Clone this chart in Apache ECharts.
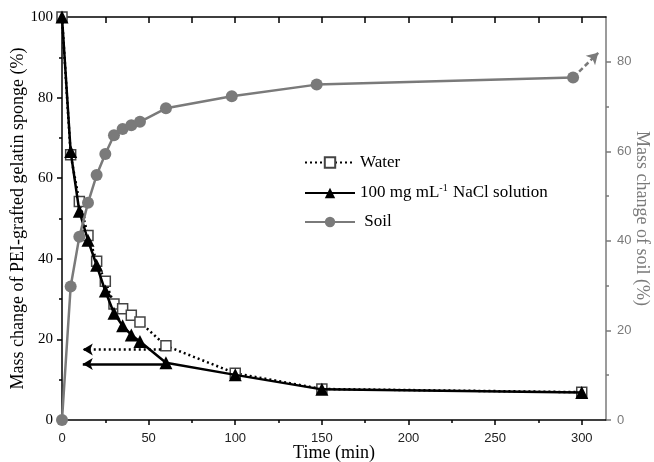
<!DOCTYPE html>
<html>
<head>
<meta charset="utf-8">
<script src="https://cdn.jsdelivr.net/npm/echarts@6/dist/echarts.min.js"></script>
<style>html,body{margin:0;padding:0;background:#fff;}#c{width:654px;height:462px;}</style>
</head>
<body>
<div id="c"></div>
<script>
// ---- data ----
const waterTime = [0, 5, 10, 15, 20, 25, 30, 35, 40, 45, 60, 100, 150, 300];
const waterMass = [100, 65.8, 54.2, 45.8, 39.4, 34.4, 28.8, 27.6, 26.0, 24.3, 18.4, 11.6, 7.7, 6.9];
const naclTime = [0, 5, 10, 15, 20, 25, 30, 35, 40, 45, 60, 100, 150, 300];
const naclMass = [100, 66.6, 51.8, 44.6, 38.4, 32.0, 26.5, 23.4, 21.1, 19.5, 14.2, 11.2, 7.6, 6.8];
const soilTime = [0, 5, 10, 15, 20, 25, 30, 35, 40, 45, 60, 98, 147, 295];
const soilMass = [0, 29.8, 40.9, 48.5, 54.7, 59.4, 63.6, 65.0, 65.8, 66.6, 69.6, 72.3, 74.9, 76.5];

const xMajorTicks = [0, 50, 100, 150, 200, 250, 300];
const xMinorTicks = [25, 75, 125, 175, 225, 275];
const xTopTicks = [0, 25, 50, 75, 100, 125, 150, 175, 200, 225, 250, 275, 300];
const leftMajorTicks = [0, 20, 40, 60, 80, 100];
const leftMinorTicks = [10, 30, 50, 70, 90];
const rightMajorTicks = [0, 20, 40, 60, 80];
const rightMinorTicks = [10, 30, 50, 70];

// annotation arrows (data units): [x0, y0, x1, y1]
const waterArrow = [57, 17.5, 12, 17.5];
const naclArrow = [58, 13.9, 12, 13.9];
const soilArrow = [298.5, 77.8, 309.5, 82.0];

const names = ['Water', '100 mg mL-1 NaCl solution', 'Soil'];

const zip = (a, b) => a.map((v, i) => [v, b[i]]);
const GRAY = '#7a7a7a';
const SERIF = '"Liberation Serif", "Times New Roman", serif';
const SANS = '"Liberation Sans", Arial, sans-serif';

const chart = echarts.init(document.getElementById('c'));
chart.setOption({
  animation: false,
  backgroundColor: '#fff',
  grid: { left: 62, right: 48, top: 17, bottom: 42, containLabel: false, outerBoundsMode: 'none' },
  legend: {
    orient: 'vertical',
    left: 299,
    top: 149,
    itemWidth: 50,
    itemHeight: 13,
    itemGap: 12,
    data: names,
    formatter: function (n) {
      if (n === names[1]) return '{n|100 mg mL}{s|-1}{n| NaCl solution}';
      if (n === 'Soil') return '{n| Soil}';
      return '{n|' + n + '}';
    },
    textStyle: {
      color: '#000',
      rich: {
        n: { fontFamily: SERIF, fontSize: 17, color: '#000', lineHeight: 20 },
        s: { fontFamily: SERIF, fontSize: 10, color: '#000', verticalAlign: 'top', lineHeight: 20, padding: [0, 1, 0, 0] }
      }
    }
  },
  xAxis: [
    {
      type: 'value', position: 'bottom', min: 0, max: 314,
      name: 'Time (min)', nameLocation: 'middle', nameGap: 24, nameMoveOverlap: false,
      nameTextStyle: { fontFamily: SERIF, fontSize: 18, color: '#000' },
      axisLine: { show: true, onZero: false, lineStyle: { color: '#000', width: 1.5 } },
      axisTick: { show: true, customValues: xMajorTicks, length: 5, lineStyle: { color: '#000', width: 1.5 } },
      axisLabel: { customValues: xMajorTicks, margin: 12, fontFamily: SANS, fontSize: 13, color: '#222' },
      splitLine: { show: false }
    },
    {
      type: 'value', position: 'bottom', min: 0, max: 314,
      axisLine: { show: false, onZero: false },
      axisTick: { show: true, customValues: xMinorTicks, length: 3, lineStyle: { color: '#000', width: 1.5 } },
      axisLabel: { show: false },
      splitLine: { show: false }
    },
    {
      type: 'value', position: 'top', min: 0, max: 314,
      axisLine: { show: true, onZero: false, lineStyle: { color: '#000', width: 1.5 } },
      axisTick: { show: true, inside: true, customValues: xTopTicks, length: 6, lineStyle: { color: '#000', width: 1.5 } },
      axisLabel: { show: false },
      splitLine: { show: false }
    }
  ],
  yAxis: [
    {
      type: 'value', position: 'left', min: 0, max: 100,
      name: 'Mass change of PEI-grafted gelatin sponge (%)', nameLocation: 'middle', nameGap: 35, nameMoveOverlap: false,
      nameTextStyle: { fontFamily: SERIF, fontSize: 18, color: '#000' },
      axisLine: { show: true, onZero: false, lineStyle: { color: '#000', width: 1.5 } },
      axisTick: { show: true, customValues: leftMajorTicks, length: 5, lineStyle: { color: '#000', width: 1.5 } },
      axisLabel: { customValues: leftMajorTicks, margin: 9, fontFamily: SERIF, fontSize: 15, color: '#000' },
      splitLine: { show: false }
    },
    {
      type: 'value', position: 'right', min: 0, max: 90,
      name: 'Mass change of soil (%)', nameLocation: 'middle', nameGap: 27, nameRotate: -90, nameMoveOverlap: false,
      nameTextStyle: { fontFamily: SERIF, fontSize: 18, color: GRAY },
      axisLine: { show: true, onZero: false, lineStyle: { color: GRAY, width: 1.5 } },
      axisTick: { show: true, customValues: rightMajorTicks, length: 5, lineStyle: { color: GRAY, width: 1.5 } },
      axisLabel: { customValues: rightMajorTicks, margin: 11, fontFamily: SANS, fontSize: 13, color: GRAY },
      splitLine: { show: false }
    },
    {
      type: 'value', position: 'left', min: 0, max: 100,
      axisLine: { show: false, onZero: false },
      axisTick: { show: true, customValues: leftMinorTicks, length: 3, lineStyle: { color: '#000', width: 1.5 } },
      axisLabel: { show: false },
      splitLine: { show: false }
    },
    {
      type: 'value', position: 'right', min: 0, max: 90,
      axisLine: { show: false, onZero: false },
      axisTick: { show: true, customValues: rightMinorTicks, length: 3, lineStyle: { color: GRAY, width: 1.5 } },
      axisLabel: { show: false },
      splitLine: { show: false }
    }
  ],
  series: [
    {
      name: names[0], type: 'line', xAxisIndex: 0, yAxisIndex: 0,
      data: zip(waterTime, waterMass),
      symbol: 'rect', symbolSize: 10, showAllSymbol: true,
      lineStyle: { color: '#000', width: 2.5, type: [2, 3] },
      itemStyle: { color: '#fff', borderColor: '#444', borderWidth: 1.5 },
      z: 3,
      markLine: {
        silent: true, animation: false,
        symbol: ['none', 'arrow'], symbolSize: [9, 10],
        label: { show: false },
        lineStyle: { color: '#000', width: 2.5, type: [2, 3] },
        data: [[{ coord: [waterArrow[0], waterArrow[1]] }, { coord: [waterArrow[2], waterArrow[3]] }]]
      }
    },
    {
      name: names[1], type: 'line', xAxisIndex: 0, yAxisIndex: 0,
      data: zip(naclTime, naclMass),
      symbol: 'triangle', symbolSize: 13, showAllSymbol: true,
      lineStyle: { color: '#000', width: 2.5 },
      itemStyle: { color: '#000' },
      z: 4,
      markLine: {
        silent: true, animation: false,
        symbol: ['none', 'arrow'], symbolSize: [9, 10],
        label: { show: false },
        lineStyle: { color: '#000', width: 2.5, type: 'solid' },
        data: [[{ coord: [naclArrow[0], naclArrow[1]] }, { coord: [naclArrow[2], naclArrow[3]] }]]
      }
    },
    {
      name: names[2], type: 'line', xAxisIndex: 0, yAxisIndex: 1,
      data: zip(soilTime, soilMass),
      symbol: 'circle', symbolSize: 12, showAllSymbol: true,
      lineStyle: { color: GRAY, width: 2.5 },
      itemStyle: { color: GRAY },
      z: 5,
      markLine: {
        silent: true, animation: false,
        symbol: ['none', 'arrow'], symbolSize: [10, 11],
        label: { show: false },
        lineStyle: { color: GRAY, width: 2.5, type: [5, 3] },
        data: [[{ coord: [soilArrow[0], soilArrow[1]] }, { coord: [soilArrow[2], soilArrow[3]] }]]
      }
    }
  ]
});
</script>
</body>
</html>
